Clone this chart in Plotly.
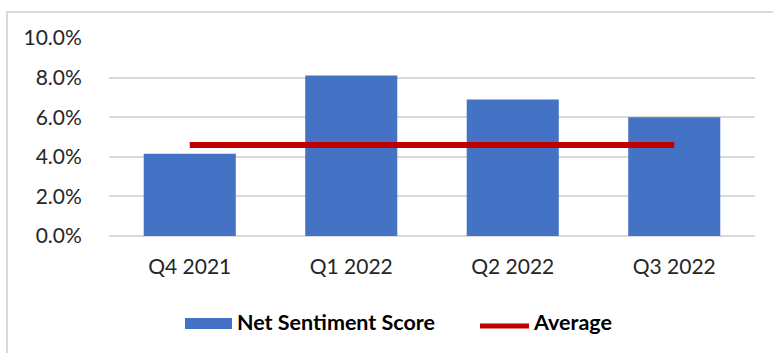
import plotly.graph_objects as go

# Quarterly net sentiment scores (%)
quarters = ["Q4 2021", "Q1 2022", "Q2 2022", "Q3 2022"]
net_sentiment = [4.15, 8.1, 6.9, 6.0]
average_score = [4.6, 4.6, 4.6, 4.6]
y_ticks = [0, 2, 4, 6, 8, 10]
y_tick_text = [f"{v:.1f}%" for v in y_ticks]

BLUE = "#4472c4"
RED = "#c00000"
FONT = "Lato, Carlito, 'Open Sans', sans-serif"
TEXT = "#262626"

W, H = 773, 353
L, R, T, B = 109, 18, 38, 117
pw, ph = W - L - R, H - T - B


def px(x):
    return (x - L) / pw


def py(y):
    return (H - B - y) / ph


fig = go.Figure()
fig.add_trace(go.Bar(
    x=quarters, y=net_sentiment, name="Net Sentiment Score",
    marker=dict(color=BLUE, line=dict(width=0)),
))
fig.add_trace(go.Scatter(
    x=quarters, y=average_score, name="Average", mode="lines",
    line=dict(color=RED, width=6),
))

shapes = [
    # outer chart frame
    dict(type="rect", xref="paper", yref="paper",
         x0=px(7), x1=px(790), y0=py(370), y1=py(12),
         line=dict(color="#d9d9d9", width=2), fillcolor="rgba(0,0,0,0)",
         layer="below"),
    # legend keys
    dict(type="rect", xref="paper", yref="paper",
         x0=px(185), x1=px(232), y0=py(329), y1=py(318),
         line=dict(width=0), fillcolor=BLUE),
    dict(type="line", xref="paper", yref="paper",
         x0=px(480), x1=px(529), y0=py(326), y1=py(326),
         line=dict(color=RED, width=5)),
]

annotations = [
    dict(text="<b>Net Sentiment Score</b>", xref="paper", yref="paper",
         x=px(235), y=py(322), xanchor="left", yanchor="middle",
         showarrow=False, font=dict(family=FONT, size=21.5, color="#000000")),
    dict(text="<b>Average</b>", xref="paper", yref="paper",
         x=px(531), y=py(322), xanchor="left", yanchor="middle",
         showarrow=False, font=dict(family=FONT, size=21.5, color="#000000")),
]

fig.update_layout(
    width=W, height=H,
    margin=dict(l=L, r=R, t=T, b=B, pad=0),
    paper_bgcolor="white", plot_bgcolor="white",
    showlegend=False, bargap=0.43,
    font=dict(family=FONT, size=21, color=TEXT),
    shapes=shapes, annotations=annotations,
    xaxis=dict(showgrid=False, showline=False, zeroline=False,
               ticks="outside", ticklen=12, tickcolor="rgba(0,0,0,0)",
               tickfont=dict(size=21, color=TEXT)),
    yaxis=dict(range=[0, 10], tickvals=y_ticks, ticktext=y_tick_text,
               showgrid=True, gridcolor="#d9d9d9",
               gridwidth=1.5, zeroline=True, zerolinecolor="#d9d9d9",
               zerolinewidth=1.5, showline=False,
               ticks="outside", ticklen=22, tickcolor="rgba(0,0,0,0)",
               tickfont=dict(size=21, color=TEXT)),
)

fig.write_html("out.html")
